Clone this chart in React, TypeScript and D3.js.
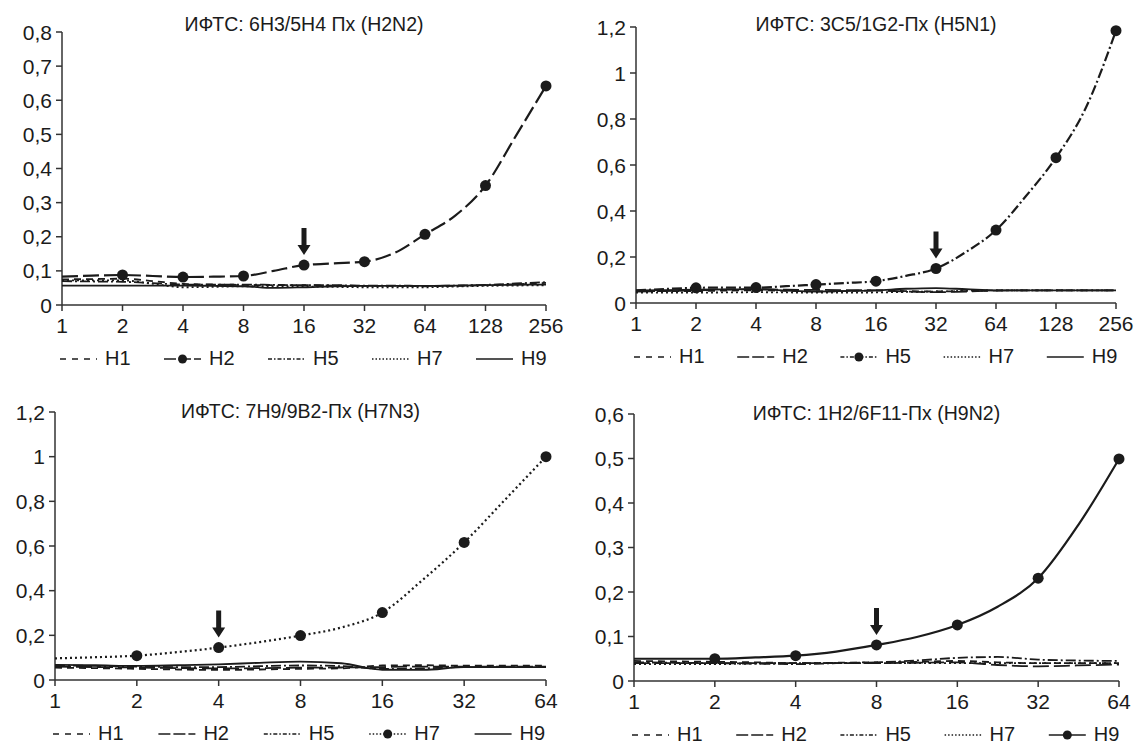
import React from 'react';
import * as d3 from 'd3';

// dilution steps (with half-steps between the labelled ones)
const doses256 = [1, 1.41, 2, 2.83, 4, 5.66, 8, 11.3, 16, 22.6, 32, 45.3, 64, 90.5, 128, 181, 256];
const doses64 = [1, 1.41, 2, 2.83, 4, 5.66, 8, 11.3, 16, 22.6, 32, 45.3, 64];

const xTicks256 = [1, 2, 4, 8, 16, 32, 64, 128, 256];
const xTicks64 = [1, 2, 4, 8, 16, 32, 64];
const yTicks08 = [0, 0.1, 0.2, 0.3, 0.4, 0.5, 0.6, 0.7, 0.8];
const yTicks12 = [0, 0.2, 0.4, 0.6, 0.8, 1, 1.2];
const yTicks06 = [0, 0.1, 0.2, 0.3, 0.4, 0.5, 0.6];

const seriesNames = ['H1', 'H2', 'H5', 'H7', 'H9'];

// panel 1: 6H3/5H4 (H2N2)
const p1H1 = [0.075, 0.076, 0.077, 0.07, 0.062, 0.06, 0.059, 0.058, 0.058, 0.057, 0.056, 0.056, 0.055, 0.056, 0.058, 0.061, 0.065];
const p1H2 = [0.083, 0.086, 0.088, 0.085, 0.082, 0.083, 0.085, 0.1, 0.117, 0.122, 0.127, 0.153, 0.207, 0.262, 0.35, 0.495, 0.642];
const p1H5 = [0.07, 0.069, 0.068, 0.064, 0.06, 0.06, 0.06, 0.059, 0.058, 0.058, 0.057, 0.057, 0.056, 0.057, 0.059, 0.063, 0.067];
const p1H7 = [0.072, 0.072, 0.072, 0.062, 0.052, 0.053, 0.055, 0.055, 0.054, 0.053, 0.052, 0.052, 0.052, 0.054, 0.056, 0.057, 0.058];
const p1H9 = [0.057, 0.057, 0.057, 0.057, 0.057, 0.056, 0.055, 0.05, 0.052, 0.055, 0.056, 0.056, 0.056, 0.057, 0.058, 0.059, 0.06];

// panel 2: 3C5/1G2 (H5N1)
const p2H1 = [0.052, 0.052, 0.052, 0.054, 0.055, 0.053, 0.05, 0.052, 0.055, 0.052, 0.05, 0.052, 0.055, 0.055, 0.055, 0.055, 0.055];
const p2H2 = [0.05, 0.052, 0.055, 0.058, 0.06, 0.058, 0.057, 0.056, 0.055, 0.05, 0.047, 0.05, 0.054, 0.055, 0.055, 0.055, 0.055];
const p2H5 = [0.055, 0.061, 0.066, 0.067, 0.067, 0.073, 0.08, 0.087, 0.095, 0.118, 0.15, 0.222, 0.317, 0.465, 0.632, 0.85, 1.184];
const p2H7 = [0.045, 0.045, 0.045, 0.046, 0.047, 0.046, 0.045, 0.045, 0.046, 0.048, 0.05, 0.053, 0.055, 0.055, 0.055, 0.055, 0.055];
const p2H9 = [0.055, 0.056, 0.058, 0.059, 0.06, 0.054, 0.05, 0.052, 0.055, 0.062, 0.065, 0.06, 0.055, 0.055, 0.055, 0.055, 0.055];

// panel 3: 7H9/9B2 (H7N3)
const p3H1 = [0.055, 0.053, 0.05, 0.047, 0.045, 0.047, 0.05, 0.052, 0.065, 0.066, 0.064, 0.064, 0.064];
const p3H2 = [0.06, 0.058, 0.056, 0.053, 0.052, 0.053, 0.055, 0.056, 0.058, 0.06, 0.06, 0.06, 0.06];
const p3H5 = [0.065, 0.063, 0.06, 0.058, 0.058, 0.062, 0.065, 0.062, 0.05, 0.052, 0.058, 0.058, 0.058];
const p3H7 = [0.097, 0.102, 0.109, 0.125, 0.145, 0.17, 0.199, 0.235, 0.302, 0.45, 0.616, 0.808, 1.0];
const p3H9 = [0.068, 0.066, 0.063, 0.066, 0.07, 0.077, 0.082, 0.075, 0.046, 0.045, 0.058, 0.058, 0.058];

// panel 4: 1H2/6F11 (H9N2)
const p4H1 = [0.045, 0.044, 0.043, 0.042, 0.04, 0.041, 0.042, 0.043, 0.045, 0.042, 0.04, 0.04, 0.04];
const p4H2 = [0.04, 0.04, 0.04, 0.04, 0.04, 0.04, 0.04, 0.041, 0.042, 0.036, 0.033, 0.035, 0.037];
const p4H5 = [0.042, 0.041, 0.04, 0.039, 0.038, 0.04, 0.042, 0.046, 0.052, 0.054, 0.048, 0.046, 0.045];
const p4H7 = [0.038, 0.038, 0.038, 0.039, 0.04, 0.04, 0.04, 0.04, 0.04, 0.04, 0.04, 0.04, 0.04];
const p4H9 = [0.05, 0.05, 0.05, 0.053, 0.057, 0.066, 0.081, 0.099, 0.126, 0.167, 0.231, 0.352, 0.499];

const dashes = ['7,5', '16,5', '10,3,2,3', '2,3', 'none'];
const legendDashes = ['6,6', '12,3', '4,2,1.5,2', '1.5,2', 'none'];

const FONT = '"Liberation Sans", Arial, Helvetica, sans-serif';
const INK = '#1b1b1b';
const fmt = d3.formatLocale({ decimal: ',', thousands: ' ', grouping: [3], currency: ['', ''] }).format('.1~f');

const panels = [
  { title: 'ИФТС: 6H3/5H4 Пх (H2N2)', doses: doses256, xTicks: xTicks256, yTicks: yTicks08, values: [p1H1, p1H2, p1H5, p1H7, p1H9], hi: 1, arrow: 16, box: { left: 62, right: 546, top: 32, bottom: 305 }, titleY: 31 },
  { title: 'ИФТС: 3C5/1G2-Пх (H5N1)', doses: doses256, xTicks: xTicks256, yTicks: yTicks12, values: [p2H1, p2H2, p2H5, p2H7, p2H9], hi: 2, arrow: 32, box: { left: 636, right: 1116, top: 27, bottom: 303 }, titleY: 31 },
  { title: 'ИФТС: 7H9/9B2-Пх (H7N3)', doses: doses64, xTicks: xTicks64, yTicks: yTicks12, values: [p3H1, p3H2, p3H5, p3H7, p3H9], hi: 3, arrow: 4, box: { left: 55, right: 546, top: 412, bottom: 680 }, titleY: 418 },
  { title: 'ИФТС: 1H2/6F11-Пх (H9N2)', doses: doses64, xTicks: xTicks64, yTicks: yTicks06, values: [p4H1, p4H2, p4H5, p4H7, p4H9], hi: 4, arrow: 8, box: { left: 634, right: 1119, top: 414, bottom: 681 }, titleY: 420 },
];

function Panel({ p }: { p: any }) {
  const { box, doses, xTicks, yTicks, values, hi } = p;
  const x = d3.scaleLog().base(2).domain([1, d3.max(xTicks) as number]).range([box.left, box.right]);
  const y = d3.scaleLinear().domain([0, d3.max(yTicks) as number]).range([box.bottom, box.top]);
  const line = d3.line<number>()
    .x((_, i) => x(doses[i]))
    .y((d) => y(d))
    .curve(d3.curveMonotoneX);

  const order = [0, 1, 2, 3, 4].filter((i) => i !== hi).concat([hi]);
  const ai = doses.indexOf(p.arrow);
  const ax = x(p.arrow);
  const tip = y(values[hi][ai]) - 10;
  const arrowPath = `M${ax - 2.5},${tip - 27} L${ax + 2.5},${tip - 27} L${ax + 2.5},${tip - 10} L${ax + 6.5},${tip - 10} L${ax},${tip} L${ax - 6.5},${tip - 10} L${ax - 2.5},${tip - 10} Z`;

  const step = (box.right - box.left + 36) / 5;
  const legendY = box.bottom + 60;

  return (
    <g fontFamily={FONT} fill={INK}>
      <text x={(box.left + box.right) / 2} y={p.titleY} textAnchor="middle" fontSize={19.5}>{p.title}</text>

      {/* y axis */}
      <line x1={box.left} x2={box.left} y1={y(0)} y2={y(d3.max(yTicks) as number)} stroke="#333" strokeWidth={1.5} />
      {yTicks.map((t: number) => (
        <g key={'y' + t}>
          <line x1={box.left - 6} x2={box.left} y1={y(t)} y2={y(t)} stroke="#333" strokeWidth={1.5} />
          <text x={box.left - 10} y={y(t)} dy="0.36em" textAnchor="end" fontSize={21}>{fmt(t)}</text>
        </g>
      ))}

      {/* x axis */}
      <line x1={x(1)} x2={x(d3.max(xTicks) as number)} y1={box.bottom} y2={box.bottom} stroke="#333" strokeWidth={1.5} />
      {xTicks.map((t: number) => (
        <g key={'x' + t}>
          <line x1={x(t)} x2={x(t)} y1={box.bottom} y2={box.bottom + 6} stroke="#333" strokeWidth={1.5} />
          <text x={x(t)} y={box.bottom + 28} textAnchor="middle" fontSize={21}>{t}</text>
        </g>
      ))}

      {/* series */}
      {order.map((si) => (
        <path key={'s' + si} d={line(values[si]) as string} fill="none" stroke={INK}
          strokeWidth={si === hi ? 2.2 : 1.8} strokeDasharray={dashes[si]} />
      ))}
      {doses.map((d: number, i: number) => (xTicks.includes(d) && d > 1 ? (
        <circle key={'m' + i} cx={x(d)} cy={y(values[hi][i])} r={5.5} fill={INK} />
      ) : null))}

      <path d={arrowPath} fill={INK} />

      {/* legend */}
      {seriesNames.map((name, i) => {
        const tx = box.left + 43 + i * step;
        const ly = legendY - 6;
        return (
          <g key={'l' + name}>
            <line x1={tx - 45} x2={tx - 8} y1={ly} y2={ly} stroke={INK} strokeWidth={1.6} strokeDasharray={legendDashes[i]} />
            {i === hi ? <circle cx={tx - 26.5} cy={ly} r={4.5} fill={INK} /> : null}
            <text x={tx} y={legendY} fontSize={20}>{name}</text>
          </g>
        );
      })}
    </g>
  );
}

export default function App() {
  return (
    <svg width={1136} height={746} style={{ position: 'absolute', left: 0, top: 0, background: '#fff' }}>
      <rect width={1136} height={746} fill="#fff" />
      {panels.map((p, i) => <Panel key={i} p={p} />)}
    </svg>
  );
}
